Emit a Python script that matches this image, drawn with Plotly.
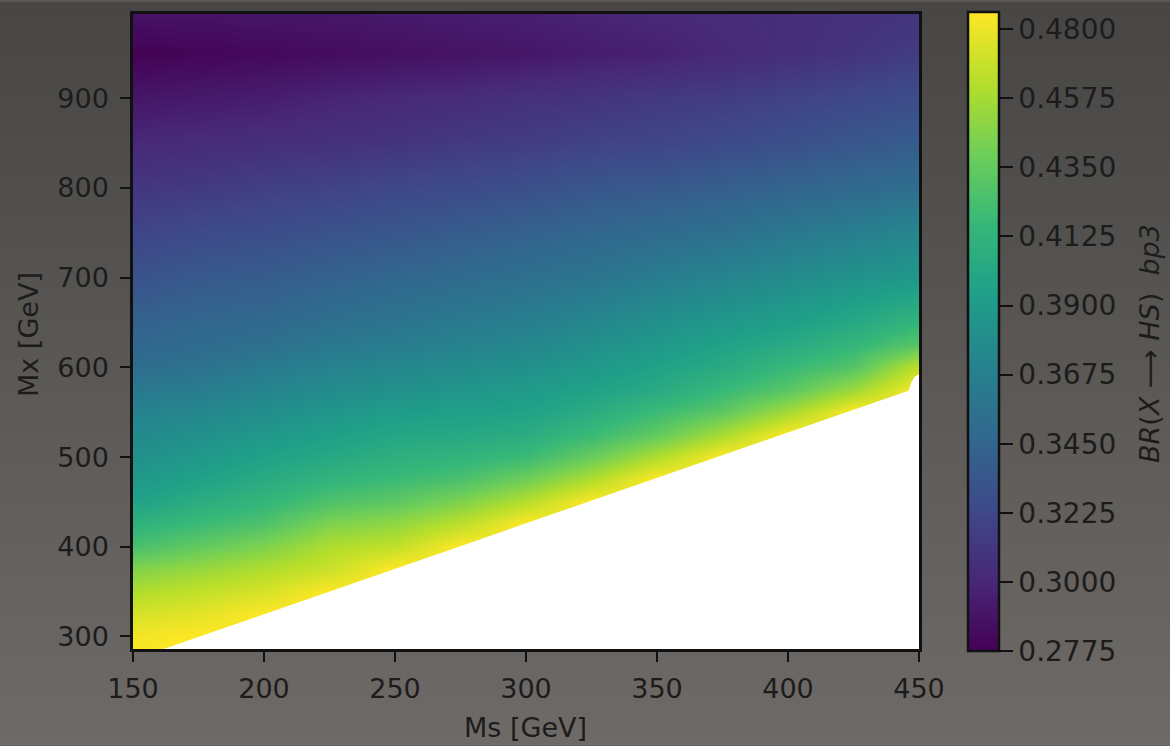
import base64
import plotly.graph_objects as go

# ---------------- data ----------------
ms_values = [150, 175, 200, 225, 250, 275, 300, 325, 350, 375, 400, 425, 450]
mx_values = [285, 300, 325, 350, 375, 400, 425, 450, 475, 500, 525, 550, 575,
             600, 625, 650, 700, 750, 800, 850, 900, 950, 995]

# BR(X -> HS) (rows: Mx ascending, cols: Ms)
br_285 = [0.484, 0.486, 0.486, 0.486, 0.486, 0.486, 0.486, 0.486, 0.486, 0.486, 0.486, 0.486, 0.486]
br_300 = [0.482, 0.486, 0.486, 0.486, 0.486, 0.486, 0.486, 0.486, 0.486, 0.486, 0.486, 0.486, 0.486]
br_325 = [0.473, 0.477, 0.486, 0.486, 0.486, 0.486, 0.486, 0.486, 0.486, 0.486, 0.486, 0.486, 0.486]
br_350 = [0.461, 0.467, 0.473, 0.486, 0.486, 0.486, 0.486, 0.486, 0.486, 0.486, 0.486, 0.486, 0.486]
br_375 = [0.445, 0.453, 0.461, 0.469, 0.486, 0.486, 0.486, 0.486, 0.486, 0.486, 0.486, 0.486, 0.486]
br_400 = [0.425, 0.435, 0.445, 0.461, 0.467, 0.486, 0.486, 0.486, 0.486, 0.486, 0.486, 0.486, 0.486]
br_425 = [0.411, 0.419, 0.427, 0.445, 0.451, 0.465, 0.486, 0.486, 0.486, 0.486, 0.486, 0.486, 0.486]
br_450 = [0.396, 0.406, 0.415, 0.427, 0.433, 0.445, 0.463, 0.486, 0.486, 0.486, 0.486, 0.486, 0.486]
br_475 = [0.388, 0.396, 0.404, 0.413, 0.419, 0.425, 0.439, 0.461, 0.486, 0.486, 0.486, 0.486, 0.486]
br_500 = [0.382, 0.388, 0.396, 0.402, 0.409, 0.413, 0.419, 0.437, 0.461, 0.486, 0.486, 0.486, 0.486]
br_525 = [0.376, 0.382, 0.388, 0.394, 0.400, 0.402, 0.406, 0.419, 0.435, 0.459, 0.486, 0.486, 0.486]
br_550 = [0.370, 0.374, 0.380, 0.386, 0.392, 0.394, 0.396, 0.406, 0.419, 0.433, 0.457, 0.486, 0.486]
br_575 = [0.361, 0.365, 0.372, 0.378, 0.382, 0.386, 0.390, 0.396, 0.404, 0.417, 0.431, 0.455, 0.486]
br_600 = [0.352, 0.356, 0.363, 0.370, 0.374, 0.378, 0.382, 0.388, 0.396, 0.404, 0.417, 0.429, 0.466]
br_625 = [0.346, 0.350, 0.354, 0.361, 0.365, 0.370, 0.374, 0.382, 0.388, 0.396, 0.404, 0.415, 0.431]
br_650 = [0.342, 0.346, 0.348, 0.354, 0.358, 0.363, 0.367, 0.374, 0.382, 0.388, 0.394, 0.402, 0.415]
br_700 = [0.331, 0.336, 0.338, 0.342, 0.346, 0.350, 0.354, 0.358, 0.365, 0.372, 0.378, 0.384, 0.388]
br_750 = [0.321, 0.325, 0.327, 0.331, 0.334, 0.338, 0.342, 0.346, 0.350, 0.354, 0.361, 0.367, 0.374]
br_800 = [0.311, 0.313, 0.317, 0.319, 0.323, 0.325, 0.329, 0.334, 0.336, 0.340, 0.344, 0.348, 0.352]
br_850 = [0.301, 0.303, 0.305, 0.307, 0.309, 0.313, 0.315, 0.319, 0.321, 0.325, 0.329, 0.334, 0.338]
br_900 = [0.290, 0.292, 0.294, 0.298, 0.301, 0.303, 0.307, 0.309, 0.313, 0.315, 0.319, 0.323, 0.327]
br_950 = [0.278, 0.280, 0.282, 0.284, 0.286, 0.288, 0.290, 0.294, 0.296, 0.301, 0.305, 0.309, 0.315]
br_995 = [0.288, 0.288, 0.290, 0.290, 0.292, 0.294, 0.296, 0.298, 0.301, 0.303, 0.305, 0.307, 0.309]

br_rows = [br_285, br_300, br_325, br_350, br_375, br_400, br_425, br_450, br_475,
           br_500, br_525, br_550, br_575, br_600, br_625, br_650, br_700, br_750,
           br_800, br_850, br_900, br_950, br_995]

# kinematic boundary (white, forbidden region below it)
bound_ms = [160.7, 446.0, 447.2, 448.5, 450.0]
bound_mx = [285.0, 574.0, 584.0, 590.0, 592.0]

x_range = [150, 450]
y_range = [286, 994]
x_ticks = [150, 200, 250, 300, 350, 400, 450]
y_ticks = [300, 400, 500, 600, 700, 800, 900]
cb_ticks = [0.2775, 0.3000, 0.3225, 0.3450, 0.3675, 0.3900, 0.4125, 0.4350, 0.4575, 0.4800]
cb_min, cb_max = 0.2775, 0.4856

x_title = "Ms [GeV]"
y_title = "Mx [GeV]"
cb_title = "<i>BR</i>(<i>X</i> \u27f6 <i>HS</i>)  <i>bp3</i>"

# ---------------- figure ----------------
FONT = "DejaVu Sans"
TXT = "#1c1c1c"
W, H = 1170, 746
ML, MR, MT, MB = 133, 251, 12, 97
PW, PH = W - ML - MR, H - MT - MB

# keep the end ticks a hair inside the bar so plotly does not drop them
eps = 1e-6
cb_tickpos = [min(max(v, cb_min + eps), cb_max - eps) for v in cb_ticks]

fig = go.Figure()

fig.add_trace(go.Heatmap(
    x=ms_values, y=mx_values, z=br_rows,
    colorscale="Viridis", zmin=cb_min, zmax=cb_max,
    zsmooth="best", hoverinfo="skip",
    colorbar=dict(
        x=1 + (968 - (ML + PW)) / PW, xanchor="left", xpad=0,
        y=0.5, yanchor="middle", len=1.006, lenmode="fraction", ypad=0,
        thickness=31, thicknessmode="pixels",
        outlinewidth=2.5, outlinecolor="#111111",
        tickvals=cb_tickpos, ticktext=[f"{v:.4f}" for v in cb_ticks],
        ticks="outside", ticklen=13, tickwidth=2, tickcolor="#111111",
        ticklabeloverflow="allow",
        tickfont=dict(family=FONT, size=28, color=TXT),
    ),
))

poly_x = bound_ms + [x_range[1], bound_ms[0]]
poly_y = bound_mx + [y_range[0] - 5, y_range[0] - 5]
fig.add_trace(go.Scatter(
    x=poly_x, y=poly_y, mode="lines", fill="toself",
    fillcolor="white", line=dict(width=0, color="white"),
    hoverinfo="skip", showlegend=False,
))

# gradient grey background of the page
svg = (
    f"<svg xmlns='http://www.w3.org/2000/svg' width='{W}' height='{H}' viewBox='0 0 {W} {H}' preserveAspectRatio='none'>"
    "<defs><linearGradient id='g' x1='0' y1='0' x2='0' y2='1'>"
    "<stop offset='0' stop-color='#474644'/><stop offset='1' stop-color='#6e6a67'/>"
    "</linearGradient></defs>"
    f"<rect width='{W}' height='{H}' fill='url(#g)'/></svg>"
)
src = "data:image/svg+xml;base64," + base64.b64encode(svg.encode()).decode()
fig.add_layout_image(dict(
    source=src, xref="paper", yref="paper",
    x=-ML / PW, y=1 + MT / PH, sizex=W / PW, sizey=H / PH,
    xanchor="left", yanchor="top", sizing="stretch", layer="below",
))

axis_common = dict(
    showline=True, mirror=True, linecolor="#111111", linewidth=2.5,
    ticks="outside", ticklen=10, tickwidth=2, tickcolor="#111111",
    showgrid=False, zeroline=False,
    tickfont=dict(family=FONT, size=27, color=TXT),
)
fig.update_xaxes(range=x_range, tickvals=x_ticks, ticklabelstandoff=4, **axis_common)
fig.update_yaxes(range=y_range, tickvals=y_ticks, ticklabelstandoff=6, **axis_common)

fig.add_annotation(text=x_title, xref="paper", yref="paper",
                   x=(525 - ML) / PW, y=-(728 - (MT + PH)) / PH,
                   showarrow=False, xanchor="center", yanchor="middle",
                   font=dict(family=FONT, size=27, color=TXT))
fig.add_annotation(text=y_title, xref="paper", yref="paper",
                   x=(29 - ML) / PW, y=((MT + PH) - 334) / PH, textangle=-90,
                   showarrow=False, xanchor="center", yanchor="middle",
                   font=dict(family=FONT, size=27, color=TXT))
fig.add_annotation(text=cb_title, xref="paper", yref="paper",
                   x=(1150 - ML) / PW, y=((MT + PH) - 343) / PH, textangle=-90,
                   showarrow=False, xanchor="center", yanchor="middle",
                   font=dict(family=FONT, size=27, color=TXT))

fig.update_layout(
    width=W, height=H,
    margin=dict(l=ML, r=MR, t=MT, b=MB, pad=0),
    paper_bgcolor="#5a5856", plot_bgcolor="white",
    showlegend=False,
)

fig.write_html("out.html")
